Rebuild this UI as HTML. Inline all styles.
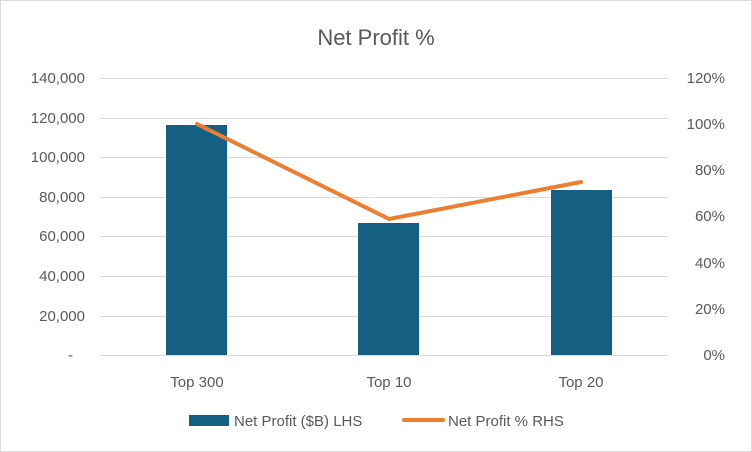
<!DOCTYPE html>
<html><head><style>
body{margin:0;background:#fff;}
svg{display:block;font-family:"Liberation Sans",Arial,sans-serif;}
</style></head><body>
<svg width="752" height="452" viewBox="0 0 752 452">
<rect x="0.5" y="0.5" width="751" height="451" fill="#fff" stroke="#d9d9d9"/>
<text x="376" y="45" text-anchor="middle" font-size="22" fill="#595959">Net Profit %</text>
<g stroke="#d9d9d9" stroke-width="1">
<line x1="100" x2="668" y1="78.5" y2="78.5"/>
<line x1="100" x2="668" y1="118.5" y2="118.5"/>
<line x1="100" x2="668" y1="157.5" y2="157.5"/>
<line x1="100" x2="668" y1="197.5" y2="197.5"/>
<line x1="100" x2="668" y1="236.5" y2="236.5"/>
<line x1="100" x2="668" y1="276.5" y2="276.5"/>
<line x1="100" x2="668" y1="316.5" y2="316.5"/>
<line x1="100" x2="668" y1="355.5" y2="355.5"/>
</g>
<g fill="#156082">
<rect x="166" y="125" width="61" height="230"/>
<rect x="358" y="223" width="61" height="132"/>
<rect x="551" y="190" width="61" height="165"/>
</g>
<polyline points="197,124 389,219 581,182" fill="none" stroke="#ED7D31" stroke-width="4" stroke-linejoin="round" stroke-linecap="round"/>
<g font-size="15" fill="#595959" text-anchor="end">
<text x="85" y="83">140,000</text>
<text x="85" y="123">120,000</text>
<text x="85" y="162">100,000</text>
<text x="85" y="202">80,000</text>
<text x="85" y="241">60,000</text>
<text x="85" y="281">40,000</text>
<text x="85" y="321">20,000</text>
<text x="73" y="360">-</text>
</g>
<g font-size="15" fill="#595959" text-anchor="end">
<text x="725" y="83">120%</text>
<text x="725" y="129">100%</text>
<text x="725" y="175">80%</text>
<text x="725" y="221">60%</text>
<text x="725" y="268">40%</text>
<text x="725" y="314">20%</text>
<text x="725" y="360">0%</text>
</g>
<g font-size="15" fill="#595959" text-anchor="middle">
<text x="197" y="387">Top 300</text>
<text x="389" y="387">Top 10</text>
<text x="581" y="387">Top 20</text>
</g>
<rect x="189" y="415" width="40" height="11" fill="#156082"/>
<text x="234" y="426" font-size="15" fill="#595959">Net Profit ($B) LHS</text>
<line x1="404" x2="443" y1="420" y2="420" stroke="#ED7D31" stroke-width="4" stroke-linecap="round"/>
<text x="448" y="426" font-size="15" fill="#595959">Net Profit % RHS</text>
</svg>
</body></html>
